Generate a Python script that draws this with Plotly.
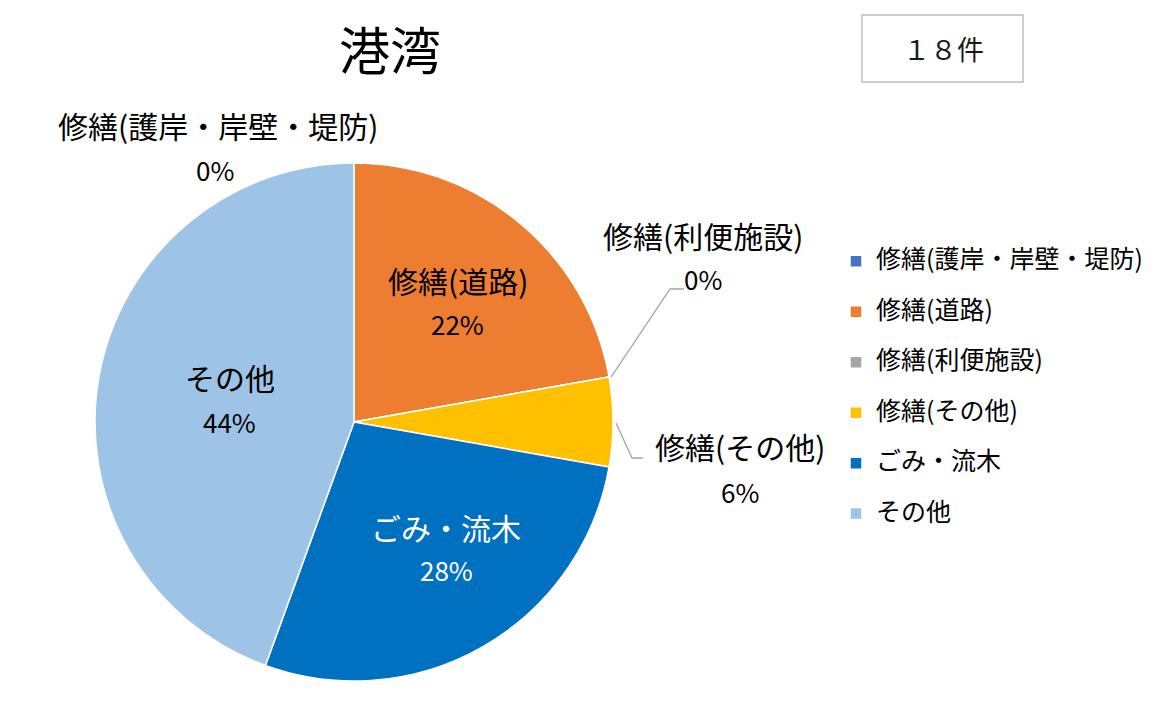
import math
import plotly.graph_objects as go

# ---- data ----
title_text = "港湾"
count_text = "１８件"
categories = ["修繕(護岸・岸壁・堤防)", "修繕(道路)", "修繕(利便施設)", "修繕(その他)", "ごみ・流木", "その他"]
counts = [0, 4, 0, 1, 5, 8]
colors = ["#4472C4", "#ED7D31", "#A5A5A5", "#FFC000", "#0070C0", "#9DC3E6"]
label_colors = ["#000000", "#000000", "#000000", "#000000", "#FFFFFF", "#000000"]

# label placement (pixels): (label x, label y, pct x, pct y)
label_pos = [
    (218, 125, 215, 170),
    (458, 280, 457, 323),
    (703, 235, 703, 279),
    (740, 446, 740, 491),
    (446, 527, 446, 569),
    (230, 377, 229, 422),
]

W, H = 1160, 712
CX, CY, R = 354, 422, 259
FONT = "Noto Sans CJK JP"

def px(x):
    return x / W

def py(y):
    return 1 - y / H

total = sum(counts)
pcts = [f"{round(v / total * 100)}%" for v in counts]

legend_labels = [f"<span style='font-size:25px'>{c}</span><br> " for c in categories]

fig = go.Figure()
fig.add_trace(go.Pie(
    labels=legend_labels,
    values=counts,
    sort=False,
    direction="clockwise",
    rotation=0,
    marker=dict(colors=colors, line=dict(color="#FFFFFF", width=1.5)),
    textinfo="none",
    hovertemplate="%{customdata}: %{value} (%{percent})<extra></extra>",
    customdata=categories,
    domain=dict(x=[px(CX - R), px(CX + R)], y=[py(CY + R), py(CY - R)]),
    showlegend=True,
))

annotations = []
for cat, pct, pos, col in zip(categories, pcts, label_pos, label_colors):
    lx, ly, qx, qy = pos
    annotations.append(dict(x=px(lx), y=py(ly), xref="paper", yref="paper", text=cat,
                            showarrow=False, font=dict(family=FONT, size=30, color=col),
                            xanchor="center", yanchor="middle"))
    annotations.append(dict(x=px(qx), y=py(qy), xref="paper", yref="paper", text=pct,
                            showarrow=False, font=dict(family=FONT, size=26, color=col),
                            xanchor="center", yanchor="middle"))

annotations.append(dict(x=px(390), y=py(48), xref="paper", yref="paper", text=title_text,
                        showarrow=False, font=dict(family=FONT, size=51, color="#000000"),
                        xanchor="center", yanchor="middle"))
annotations.append(dict(x=px(943), y=py(49), xref="paper", yref="paper", text=count_text,
                        showarrow=False, font=dict(family=FONT, size=27, color="#1A1A1A"),
                        xanchor="center", yanchor="middle"))

# leader lines computed from slice geometry
def edge_point(frac):
    a = 2 * math.pi * frac
    return CX + R * math.sin(a), CY - R * math.cos(a)

cum = [sum(counts[:i]) for i in range(len(counts))]
shapes = []
# 修繕(利便施設): zero slice at boundary
sx, sy = edge_point(cum[2] / total)
shapes.append(dict(type="path", xref="paper", yref="paper",
                   path=f"M {px(sx+2)} {py(sy)} L {px(670)} {py(289)} L {px(684)} {py(289)}",
                   line=dict(color="#A6A6A6", width=1.3)))
# 修繕(その他): slice mid angle
sx, sy = edge_point((cum[3] + counts[3] / 2) / total)
shapes.append(dict(type="path", xref="paper", yref="paper",
                   path=f"M {px(sx+3)} {py(sy+1)} L {px(632)} {py(458)} L {px(643)} {py(458)}",
                   line=dict(color="#A6A6A6", width=1.3)))
# count box
shapes.append(dict(type="rect", xref="paper", yref="paper",
                   x0=px(862), x1=px(1023), y0=py(82), y1=py(15),
                   line=dict(color="#BFBFBF", width=1.5), fillcolor="rgba(0,0,0,0)"))

fig.update_layout(
    width=W, height=H,
    margin=dict(l=0, r=0, t=0, b=0),
    paper_bgcolor="#FFFFFF",
    plot_bgcolor="#FFFFFF",
    font=dict(family=FONT, color="#000000"),
    annotations=annotations,
    shapes=shapes,
    legend=dict(
        x=px(836), y=py(243), xanchor="left", yanchor="top",
        font=dict(family=FONT, size=18.25, color="#000000"),
        bgcolor="rgba(0,0,0,0)", borderwidth=0, valign="top",
        itemclick=False, itemdoubleclick=False,
    ),
)

fig.write_html("out.html")
